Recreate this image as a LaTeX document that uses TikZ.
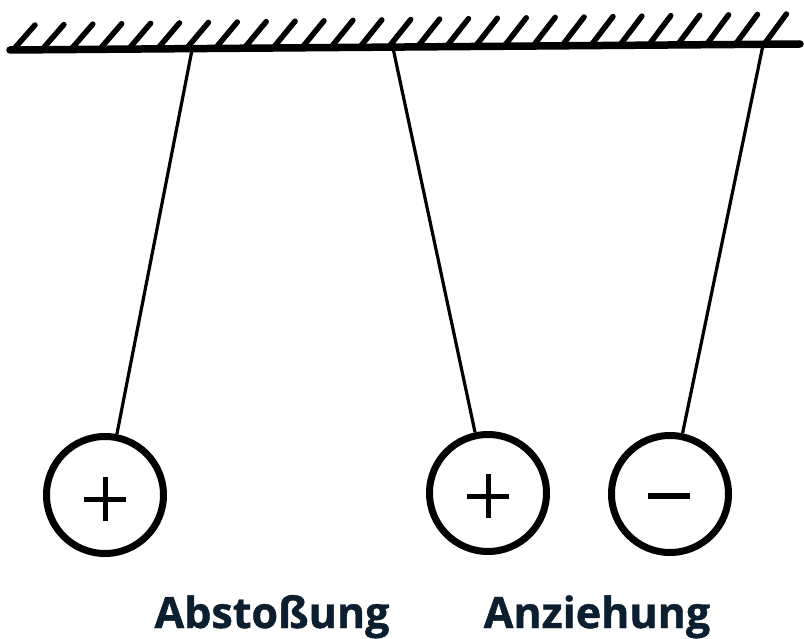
\documentclass[tikz,border=0pt]{standalone}
\usepackage{fontspec}
\setmainfont{Open Sans}
\definecolor{labelnavy}{HTML}{0B1F30}
\begin{document}
\begin{tikzpicture}[x=1pt,y=-1pt,
  ceil/.style={line width=7.5pt,line cap=round},
  hatch/.style={line width=5.5pt,line cap=round},
  thread/.style={line width=3.2pt},
  ball/.style={circle,draw,line width=7pt,inner sep=0pt,minimum size=117pt},
  sign/.style={line width=5pt},
  lbl/.style={font=\fontsize{43}{48}\selectfont\bfseries\addfontfeature{FakeBold=1},text=labelnavy,anchor=base}]
\useasboundingbox (0,0) rectangle (804,639);
% ceiling
\coordinate (cl) at (10,50);
\coordinate (cr) at (800,44);
\draw[ceil] (cl) -- (cr);
\foreach \k in {0,...,26}{
  \pgfmathsetmacro{\xb}{13+28.9*\k}
  \pgfmathsetmacro{\yb}{50-6*\k/26}
  \pgfmathsetmacro{\yt}{25-11*\k/26}
  \draw[hatch] (\xb,\yb) -- (\xb+22,\yt);
}
% attachment points
\coordinate (a1) at (192,50);
\coordinate (a2) at (393,48);
\coordinate (a3) at (763,45);
% balls
\node[ball] (b1) at (105,495) {};
\node[ball] (b2) at (488,493) {};
\node[ball] (b3) at (670,494) {};
% threads
\draw[thread] (a1) -- (b1);
\draw[thread] (a2) -- (b2);
\draw[thread] (a3) -- (b3);
% signs
\draw[sign] ([shift={(-21,4)}]b1.center) -- ([shift={(21,4)}]b1.center);
\draw[sign] ([shift={(0,-18)}]b1.center) -- ([shift={(0,26)}]b1.center);
\draw[sign] ([shift={(-21,3)}]b2.center) -- ([shift={(21,3)}]b2.center);
\draw[sign] ([shift={(0,-19)}]b2.center) -- ([shift={(0,25)}]b2.center);
\draw[sign,line width=6pt] ([shift={(-22,2)}]b3.center) -- ([shift={(20,2)}]b3.center);
% labels
\node[lbl] (l1) at (272,628) {Abstoßung};
\node[lbl] (l2) at (597,628) {Anziehung};
\end{tikzpicture}
\end{document}
